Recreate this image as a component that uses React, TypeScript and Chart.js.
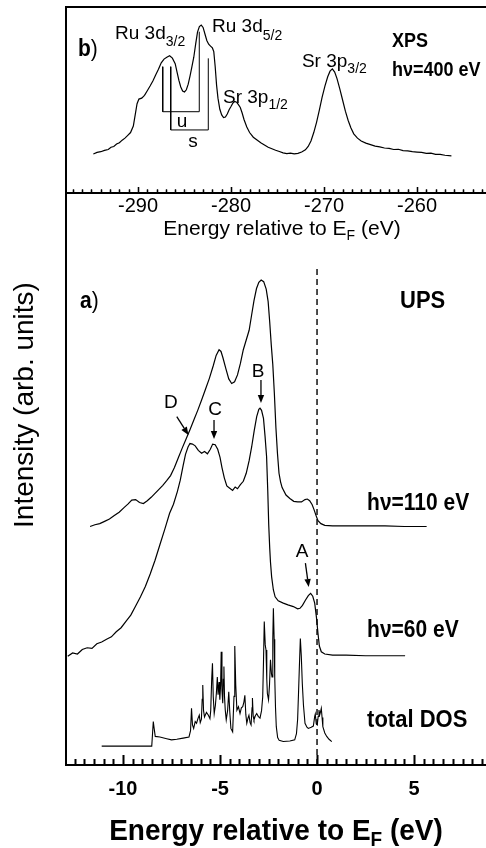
import React, { useEffect, useRef } from 'react';
import { Chart, registerables } from 'chart.js';
Chart.register(...registerables);

const FONT = '"Liberation Sans", Arial, Helvetica, sans-serif';

// ---------- XPS (panel b) ----------
const xpsTicks = [-290, -280, -270, -260];
const xpsEnergy = [
  -294.8, -294.4, -294.0, -293.6, -293.2, -292.9, -292.6, -292.3, -292.0, -291.7, -291.4, -291.1, -290.8, -290.5,
  -290.3, -290.1, -289.9, -289.6, -289.3, -289.0, -288.7, -288.4, -288.1, -287.8, -287.5, -287.2, -286.9, -286.6,
  -286.3, -286.0, -285.8, -285.6, -285.4, -285.2, -285.0, -284.8, -284.6, -284.4, -284.2, -284.0, -283.8, -283.6,
  -283.4, -283.2, -283.0, -282.8, -282.6, -282.4, -282.2, -282.0, -281.85, -281.7, -281.55, -281.4, -281.2, -281.0,
  -280.8, -280.6, -280.4, -280.2, -280.0, -279.8, -279.6, -279.4, -279.2, -279.0, -278.8, -278.6, -278.3, -278.0,
  -277.6, -277.2, -276.8, -276.4, -276.0, -275.6, -275.2, -274.8, -274.4, -274.0, -273.6, -273.2, -272.8, -272.4,
  -272.0, -271.7, -271.4, -271.1, -270.8, -270.5, -270.2, -269.9, -269.6, -269.35, -269.1, -268.85, -268.6, -268.3,
  -268.0, -267.7, -267.4, -267.1, -266.8, -266.4, -266.0, -265.5, -265.0, -264.5, -264.0, -263.5, -263.0, -262.5,
  -262.0, -261.5, -261.0, -260.5, -260.0, -259.5, -259.0, -258.5, -258.0, -257.5, -257.0, -256.3,
];
const xpsIntensity = [
  21.0, 21.8, 22.2, 22.9, 23.4, 24.6, 25.0, 26.3, 27.0, 28.4, 29.5, 31.0, 32.5, 36.0,
  42.0, 48.0, 50.5, 51.0, 52.5, 55.0, 57.5, 60.2, 63.5, 66.5, 70.0, 72.0, 73.0, 73.8,
  72.5, 69.5, 65.0, 60.5, 57.0, 54.8, 54.3, 55.5, 58.5, 63.0, 68.0, 73.0, 80.0, 86.5,
  89.5, 90.3, 89.0, 85.5, 82.0, 80.0, 79.0, 78.0, 76.0, 68.0, 58.0, 51.0, 45.0, 42.0,
  40.5, 40.8, 42.5, 44.8, 46.5, 48.3, 49.2, 48.8, 47.5, 46.0, 43.0, 39.5, 35.5, 32.5,
  30.0, 28.5, 27.0, 25.8, 24.6, 23.8, 23.0, 22.3, 21.6, 21.2, 21.4, 21.0, 21.3, 22.0,
  23.2, 25.0, 28.0, 32.5, 38.0, 44.5, 51.5, 57.5, 62.5, 65.5, 66.7, 65.0, 61.5, 56.0,
  50.0, 44.0, 39.0, 35.0, 31.8, 29.5, 28.0, 26.8, 26.0, 25.2, 24.8, 24.2, 24.0, 23.4,
  23.5, 22.8, 22.6, 22.2, 22.0, 21.8, 21.3, 21.4, 20.8, 20.8, 20.3, 20.0,
];
// spin-orbit brackets u and s
const bracketUEnergy = [-287.34, -287.34, -283.41, -283.41];
const bracketUValue = [67.9, 43.7, 43.7, 86.7];
const bracketSEnergy = [-286.48, -286.48, -282.44, -282.44];
const bracketSValue = [67.9, 33.9, 33.9, 72.4];

// ---------- UPS (panel a) ----------
const upsTicks = [-10, -5, 0, 5];
const ups110Energy = [
  -11.70, -11.45, -11.20, -10.95, -10.70, -10.45, -10.20, -9.95, -9.75, -9.55, -9.35, -9.15, -8.95, -8.75,
  -8.55, -8.35, -8.15, -7.95, -7.75, -7.55, -7.35, -7.15, -6.95, -6.75, -6.55, -6.35, -6.15, -5.95,
  -5.75, -5.55, -5.35, -5.20, -5.05, -4.95, -4.85, -4.70, -4.55, -4.40, -4.25, -4.10, -3.95, -3.80,
  -3.65, -3.50, -3.38, -3.25, -3.12, -3.00, -2.88, -2.75, -2.62, -2.52, -2.44, -2.36, -2.28, -2.20,
  -2.12, -2.04, -1.96, -1.88, -1.80, -1.60, -1.40, -1.20, -1.00, -0.80, -0.62, -0.50, -0.38, -0.25,
  -0.15, -0.05, 0.05, 0.20, 0.40, 0.80, 1.50, 2.50, 3.50, 4.50, 5.65,
];
const ups110 = [
  41.7, 42.0, 42.2, 42.6, 43.0, 43.6, 44.2, 45.0, 45.6, 46.3, 46.4, 45.9, 45.7, 46.2,
  46.8, 47.5, 48.2, 48.9, 49.7, 50.6, 52.0, 53.7, 55.4, 57.0, 58.6, 60.3, 62.0, 63.8,
  65.7, 67.6, 69.8, 71.6, 72.6, 72.3, 71.2, 69.3, 67.5, 66.7, 67.0, 68.2, 70.2, 72.6,
  74.3, 76.0, 78.5, 81.2, 83.3, 84.4, 84.8, 84.5, 83.2, 81.0, 77.5, 73.5, 70.0, 65.0,
  59.0, 54.5, 51.0, 49.5, 48.5, 47.2, 46.6, 46.1, 46.0, 46.0, 46.4, 46.5, 46.2, 45.5,
  44.6, 43.6, 42.7, 42.2, 41.9, 41.8, 41.8, 41.8, 41.8, 41.7, 41.7,
];
const ups60Energy = [
  -12.85, -12.60, -12.35, -12.10, -11.85, -11.60, -11.35, -11.10, -10.85, -10.60, -10.35, -10.10, -9.85, -9.60,
  -9.35, -9.10, -8.85, -8.60, -8.35, -8.10, -7.85, -7.60, -7.40, -7.20, -7.05, -6.90, -6.78, -6.65,
  -6.55, -6.42, -6.28, -6.12, -5.95, -5.80, -5.65, -5.50, -5.38, -5.25, -5.12, -5.00, -4.90, -4.78,
  -4.65, -4.50, -4.35, -4.22, -4.10, -3.95, -3.80, -3.65, -3.50, -3.37, -3.24, -3.11, -3.00, -2.94,
  -2.86, -2.76, -2.68, -2.60, -2.54, -2.49, -2.44, -2.40, -2.34, -2.25, -2.16, -2.00, -1.74, -1.50,
  -1.22, -1.00, -0.88, -0.75, -0.60, -0.45, -0.33, -0.22, -0.12, -0.03, 0.05, 0.12, 0.22, 0.40,
  0.80, 1.50, 2.50, 3.50, 4.54,
];
const ups60 = [
  19.0, 19.6, 19.4, 20.2, 20.5, 20.4, 21.2, 21.5, 22.0, 22.4, 23.3, 24.0, 25.1, 26.2,
  27.8, 29.4, 31.2, 33.4, 35.8, 38.5, 41.2, 44.0, 45.6, 47.8, 49.8, 52.4, 54.3, 55.6,
  56.2, 56.1, 55.8, 55.0, 54.5, 54.8, 54.4, 55.2, 56.1, 56.0, 55.2, 53.8, 52.0, 50.2,
  48.8, 48.4, 48.0, 48.6, 48.3, 49.0, 49.6, 51.0, 53.2, 55.6, 58.4, 60.9, 62.2, 62.4,
  62.0, 60.6, 57.5, 53.9, 48.0, 42.0, 38.0, 35.5, 32.9, 30.6, 29.4, 28.7, 28.3, 28.0,
  27.7, 27.3, 27.4, 27.9, 28.8, 29.6, 30.0, 29.5, 28.3, 25.8, 23.0, 20.8, 19.8, 19.4,
  19.2, 19.2, 19.1, 19.1, 19.1,
];
const dosEnergy = [
  -11.10, -8.52, -8.47, -8.44, -8.40, -8.34, -8.10, -7.75, -7.50, -7.23, -6.90, -6.60, -6.52, -6.47,
  -6.42, -6.36, -6.28, -6.21, -6.14, -6.07, -6.02, -5.96, -5.92, -5.89, -5.85, -5.80, -5.70, -5.60,
  -5.52, -5.48, -5.43, -5.39, -5.35, -5.30, -5.24, -5.19, -5.14, -5.10, -5.05, -5.01, -4.97, -4.94,
  -4.90, -4.86, -4.83, -4.80, -4.77, -4.73, -4.68, -4.61, -4.55, -4.50, -4.44, -4.35, -4.28, -4.24,
  -4.19, -4.13, -4.05, -3.97, -3.90, -3.83, -3.77, -3.72, -3.67, -3.62, -3.56, -3.51, -3.45, -3.40,
  -3.35, -3.33, -3.29, -3.25, -3.18, -3.11, -3.03, -2.94, -2.86, -2.80, -2.76, -2.72, -2.67, -2.63,
  -2.59, -2.56, -2.50, -2.45, -2.40, -2.35, -2.32, -2.28, -2.25, -2.21, -2.18, -2.14, -2.10, -2.03,
  -1.95, -1.74, -1.40, -1.15, -1.06, -1.00, -0.95, -0.91, -0.86, -0.81, -0.76, -0.70, -0.62, -0.52,
  -0.45, -0.30, -0.19, -0.12, -0.09, -0.04, 0.01, 0.06, 0.10, 0.14, 0.18, 0.22, 0.26, 0.30,
  0.40, 0.50, 0.62, 0.76,
];
const dosValues = [
  3.3, 3.3, 6.0, 7.6, 6.5, 5.0, 4.9, 4.6, 4.4, 4.5, 4.7, 4.9, 6.0, 9.9,
  7.0, 6.4, 7.6, 7.3, 8.1, 8.7, 7.4, 8.0, 11.5, 14.0, 9.5, 8.4, 9.2, 8.7,
  8.1, 9.5, 15.0, 17.8, 12.0, 9.0, 10.4, 12.5, 15.4, 12.3, 14.5, 11.4, 14.0, 19.8,
  13.0, 10.8, 15.0, 17.2, 12.0, 9.6, 7.9, 9.5, 12.8, 9.4, 6.4, 5.8, 12.0, 20.8,
  14.0, 9.6, 10.2, 9.0, 10.0, 10.2, 11.0, 12.2, 8.8, 7.3, 8.2, 8.7, 7.4, 7.0,
  10.0, 11.7, 8.5, 7.9, 8.6, 9.0, 8.5, 8.2, 9.5, 11.9, 18.0, 25.1, 21.0, 20.1,
  15.0, 12.5, 11.4, 14.0, 18.4, 16.0, 15.4, 22.0, 27.4, 22.0, 15.4, 10.0, 6.7, 4.8,
  4.3, 4.1, 4.2, 4.4, 5.5, 8.0, 13.0, 17.2, 22.1, 19.0, 14.3, 10.5, 7.3, 6.6,
  6.4, 6.6, 6.8, 8.5, 8.9, 7.2, 7.0, 8.5, 9.6, 8.8, 9.3, 9.9, 8.3, 6.7,
  5.6, 5.0, 4.5, 4.1,
];
const fermiLineEnergy = [0, 0];
const fermiLineValue = [0, 86.9];

const XPS_MIN = -297.74;
const XPS_MAX = -252.58;
const UPS_MIN = -12.94;
const UPS_MAX = 8.71;
// both panels share one chart area (y 7..765); each panel has its own y range
const UPS_Y_MAX = 132.52;   // UPS value 100 sits at the panel divider
const XPS_Y_MIN = -307.53;  // XPS value 0 sits at the panel divider

type Run = { t: string; sub?: boolean; w?: string };

function pts(xs: number[], ys: number[]) {
  return xs.map((x, i) => ({ x, y: ys[i] }));
}

function drawRuns(
  ctx: CanvasRenderingContext2D, runs: Run[], x: number, y: number, size: number,
  weight: string, align: 'left' | 'center' = 'left', sy = 1, subSize = 0, subDrop = 0,
) {
  const ss = subSize || Math.round(size * 0.72);
  const sd = subDrop || size * 0.33;
  ctx.save();
  ctx.translate(x, y);
  ctx.scale(1, sy);
  ctx.textBaseline = 'alphabetic';
  ctx.textAlign = 'left';
  ctx.fillStyle = '#000';
  const widths = runs.map((r) => {
    ctx.font = `${r.w || weight} ${r.sub ? ss : size}px ${FONT}`;
    return ctx.measureText(r.t).width;
  });
  const total = widths.reduce((a, b) => a + b, 0);
  let cx = align === 'center' ? -total / 2 : 0;
  runs.forEach((r, i) => {
    ctx.font = `${r.w || weight} ${r.sub ? ss : size}px ${FONT}`;
    ctx.fillText(r.t, cx, r.sub ? sd / sy : 0);
    cx += widths[i];
  });
  ctx.restore();
}

function arrow(ctx: CanvasRenderingContext2D, x1: number, y1: number, x2: number, y2: number) {
  const a = Math.atan2(y2 - y1, x2 - x1);
  const hl = 8, hw = 3.2;
  const bx = x2 - hl * Math.cos(a), by = y2 - hl * Math.sin(a);
  ctx.beginPath();
  ctx.moveTo(x1, y1);
  ctx.lineTo(bx, by);
  ctx.lineWidth = 1.3;
  ctx.stroke();
  ctx.beginPath();
  ctx.moveTo(x2, y2);
  ctx.lineTo(bx + hw * Math.sin(a), by - hw * Math.cos(a));
  ctx.lineTo(bx - hw * Math.sin(a), by + hw * Math.cos(a));
  ctx.closePath();
  ctx.fill();
}

function ticksAt(
  ctx: CanvasRenderingContext2D, scale: any, base: number, lo: number, hi: number,
  step: number, majorEvery: number, majorLen: number, minorLen: number, w: number,
) {
  ctx.save();
  ctx.fillStyle = '#000';
  ctx.strokeStyle = '#000';
  ctx.lineWidth = w;
  ctx.lineCap = 'butt';
  ctx.beginPath();
  for (let i = Math.ceil(lo / step); i <= Math.floor(hi / step); i++) {
    const px = Math.round(scale.getPixelForValue(i * step)) + 0.5;
    const len = Math.abs(i) % majorEvery === 0 ? majorLen : minorLen;
    ctx.moveTo(px, base);
    ctx.lineTo(px, base - len);
    ctx.fillRect(px - w / 2, base - len, w, len);
  }
  ctx.stroke();
  ctx.restore();
}

const decor = {
  id: 'decor',
  afterDraw(chart: any) {
    const { ctx, chartArea: ca } = chart;
    const xs = chart.scales.x, ys = chart.scales.y;
    const x2 = chart.scales.x2, y2 = chart.scales.y2;
    const X = (v: number) => xs.getPixelForValue(v);
    const Y = (v: number) => ys.getPixelForValue(v);
    const X2 = (v: number) => x2.getPixelForValue(v);
    const Y2 = (v: number) => y2.getPixelForValue(v);
    const mid = Y2(0);

    ctx.save();
    ctx.setLineDash([]);
    ctx.strokeStyle = '#000';
    ctx.fillStyle = '#000';
    ctx.lineWidth = 2;
    ctx.beginPath();
    ctx.moveTo(ca.right, ca.top);
    ctx.lineTo(ca.left, ca.top);
    ctx.lineTo(ca.left, ca.bottom + 1);
    ctx.moveTo(ca.left, ca.bottom);
    ctx.lineTo(ca.right, ca.bottom);
    ctx.moveTo(ca.left, mid);
    ctx.lineTo(ca.right, mid);
    ctx.stroke();
    ticksAt(ctx, x2, mid, XPS_MIN, XPS_MAX, 1, 10, 6, 3.5, 1.3);
    ticksAt(ctx, xs, ca.bottom, UPS_MIN, UPS_MAX, 0.5, 10, 10, 6, 1.6);

    // XPS tick labels via the XPS energy scale
    ctx.font = `normal 20px ${FONT}`;
    ctx.textAlign = 'center';
    ctx.textBaseline = 'middle';
    ctx.fillStyle = '#000';
    xpsTicks.forEach((v) => ctx.fillText(String(v), X2(v), mid + 13));

    // panel b annotations
    drawRuns(ctx, [{ t: 'b', w: 'bold' }, { t: ')', w: 'normal' }], X2(-296.45), Y2(73.7), 21, 'bold', 'left', 1.12);
    drawRuns(ctx, [{ t: 'Ru 3d' }, { t: '3/2', sub: true }], X2(-292.47), Y2(82.6), 19, 'normal', 'left', 1, 14, 7);
    drawRuns(ctx, [{ t: 'Ru 3d' }, { t: '5/2', sub: true }], X2(-282.04), Y2(86.7), 19, 'normal', 'left', 1, 14, 8);
    drawRuns(ctx, [{ t: 'Sr 3p' }, { t: '1/2', sub: true }], X2(-280.86), Y2(48.4), 19, 'normal', 'left', 1, 14, 6);
    drawRuns(ctx, [{ t: 'Sr 3p' }, { t: '3/2', sub: true }], X2(-272.37), Y2(68.0), 19, 'normal', 'left', 1, 14, 6);
    drawRuns(ctx, [{ t: 'XPS' }], X2(-262.69), Y2(78.7), 18, 'bold', 'left', 1.15);
    drawRuns(ctx, [{ t: 'hν=400 eV' }], X2(-262.69), Y2(62.9), 18, 'bold', 'left', 1.15);
    drawRuns(ctx, [{ t: 'u' }], X2(-285.27), Y2(35.6), 19, 'normal', 'center');
    drawRuns(ctx, [{ t: 's' }], X2(-284.09), Y2(24.9), 19, 'normal', 'center');
    drawRuns(ctx, [{ t: 'Energy relative to E' }, { t: 'F', sub: true }, { t: ' (eV)' }], 282, mid + 42, 21, 'normal', 'center', 1, 14, 5);

    // panel a annotations
    drawRuns(ctx, [{ t: 'a', w: 'bold' }, { t: ')', w: 'normal' }], X(-12.22), Y(79.9), 21, 'bold', 'left', 1.12);
    drawRuns(ctx, [{ t: 'UPS' }], X(4.28), Y(79.9), 22, 'bold', 'left', 1.12);
    drawRuns(ctx, [{ t: 'hν=110 eV' }], X(2.58), Y(44.6), 21, 'bold', 'left', 1.12);
    drawRuns(ctx, [{ t: 'hν=60 eV' }], X(2.58), Y(22.4), 21, 'bold', 'left', 1.12);
    drawRuns(ctx, [{ t: 'total DOS' }], X(2.58), Y(6.7), 22, 'bold', 'left', 1.12);
    drawRuns(ctx, [{ t: 'D' }], X(-7.53), Y(62.4), 19, 'normal', 'center');
    drawRuns(ctx, [{ t: 'C' }], X(-5.26), Y(61.2), 19, 'normal', 'center');
    drawRuns(ctx, [{ t: 'B' }], X(-3.04), Y(67.8), 19, 'normal', 'center');
    drawRuns(ctx, [{ t: 'A' }], X(-0.77), Y(36.4), 19, 'normal', 'center');
    ctx.strokeStyle = '#000';
    ctx.fillStyle = '#000';
    arrow(ctx, X(-7.23), Y(60.9), X(-6.63), Y(57.7));
    arrow(ctx, X(-5.31), Y(60.3), X(-5.31), Y(57.0));
    arrow(ctx, X(-2.89), Y(67.3), X(-2.89), Y(63.3));
    arrow(ctx, X(-0.60), Y(35.3), X(-0.43), Y(31.1));

    // axis titles
    ctx.save();
    ctx.translate(25, 405);
    ctx.rotate(-Math.PI / 2);
    ctx.font = `normal 28px ${FONT}`;
    ctx.textAlign = 'center';
    ctx.textBaseline = 'middle';
    ctx.fillText('Intensity (arb. units)', 0, 0);
    ctx.restore();
    drawRuns(ctx, [{ t: 'Energy relative to E' }, { t: 'F', sub: true }, { t: ' (eV)' }], (ca.left + ca.right) / 2, ca.bottom + 75, 28, 'bold', 'center', 1.05, 19, 6);
    ctx.restore();
  },
};

function lineDs(data: { x: number; y: number }[], extra: any = {}) {
  return {
    data, showLine: true, borderColor: '#000', borderWidth: 1.2, pointRadius: 0,
    fill: false, tension: 0, ...extra,
  };
}

export default function App() {
  const ref = useRef<HTMLCanvasElement>(null);

  useEffect(() => {
    const xps = { xAxisID: 'x2', yAxisID: 'y2' };
    const chart = new Chart(ref.current!, {
      type: 'scatter',
      data: {
        datasets: [
          lineDs(pts(xpsEnergy, xpsIntensity), xps),
          lineDs(pts(bracketUEnergy, bracketUValue), { ...xps, borderWidth: 1 }),
          lineDs(pts(bracketSEnergy, bracketSValue), { ...xps, borderWidth: 1 }),
          lineDs(pts(ups110Energy, ups110)),
          lineDs(pts(ups60Energy, ups60)),
          lineDs(pts(dosEnergy, dosValues), { borderWidth: 1.1 }),
          lineDs(pts(fermiLineEnergy, fermiLineValue), { borderDash: [6, 4], borderWidth: 1.4 }),
        ],
      },
      options: {
        animation: false,
        responsive: false,
        maintainAspectRatio: false,
        events: [],
        plugins: { legend: { display: false }, tooltip: { enabled: false } },
        layout: { padding: { left: 66, top: 7, right: 0, bottom: 0 } },
        scales: {
          x: {
            type: 'linear', min: UPS_MIN, max: UPS_MAX, position: 'bottom',
            afterBuildTicks: (s: any) => { s.ticks = upsTicks.map((v) => ({ value: v })); },
            afterFit: (s: any) => { s.height = 83; },
            grid: { display: false, drawTicks: false },
            border: { display: false },
            ticks: { color: '#000', font: { family: FONT, size: 20, weight: 'bold' }, padding: 12, maxRotation: 0, autoSkip: false },
          },
          y: { type: 'linear', min: 0, max: UPS_Y_MAX, display: false },
          x2: { type: 'linear', min: XPS_MIN, max: XPS_MAX, position: 'top', display: false },
          y2: { type: 'linear', min: XPS_Y_MIN, max: 100, position: 'left', display: false },
        },
      },
      plugins: [decor],
    } as any);
    return () => { chart.destroy(); };
  }, []);

  return (
    <div style={{ position: 'absolute', left: 0, top: 0, width: 486, height: 848, background: '#fff' }}>
      <canvas ref={ref} width={486} height={848} style={{ display: 'block' }} />
    </div>
  );
}
